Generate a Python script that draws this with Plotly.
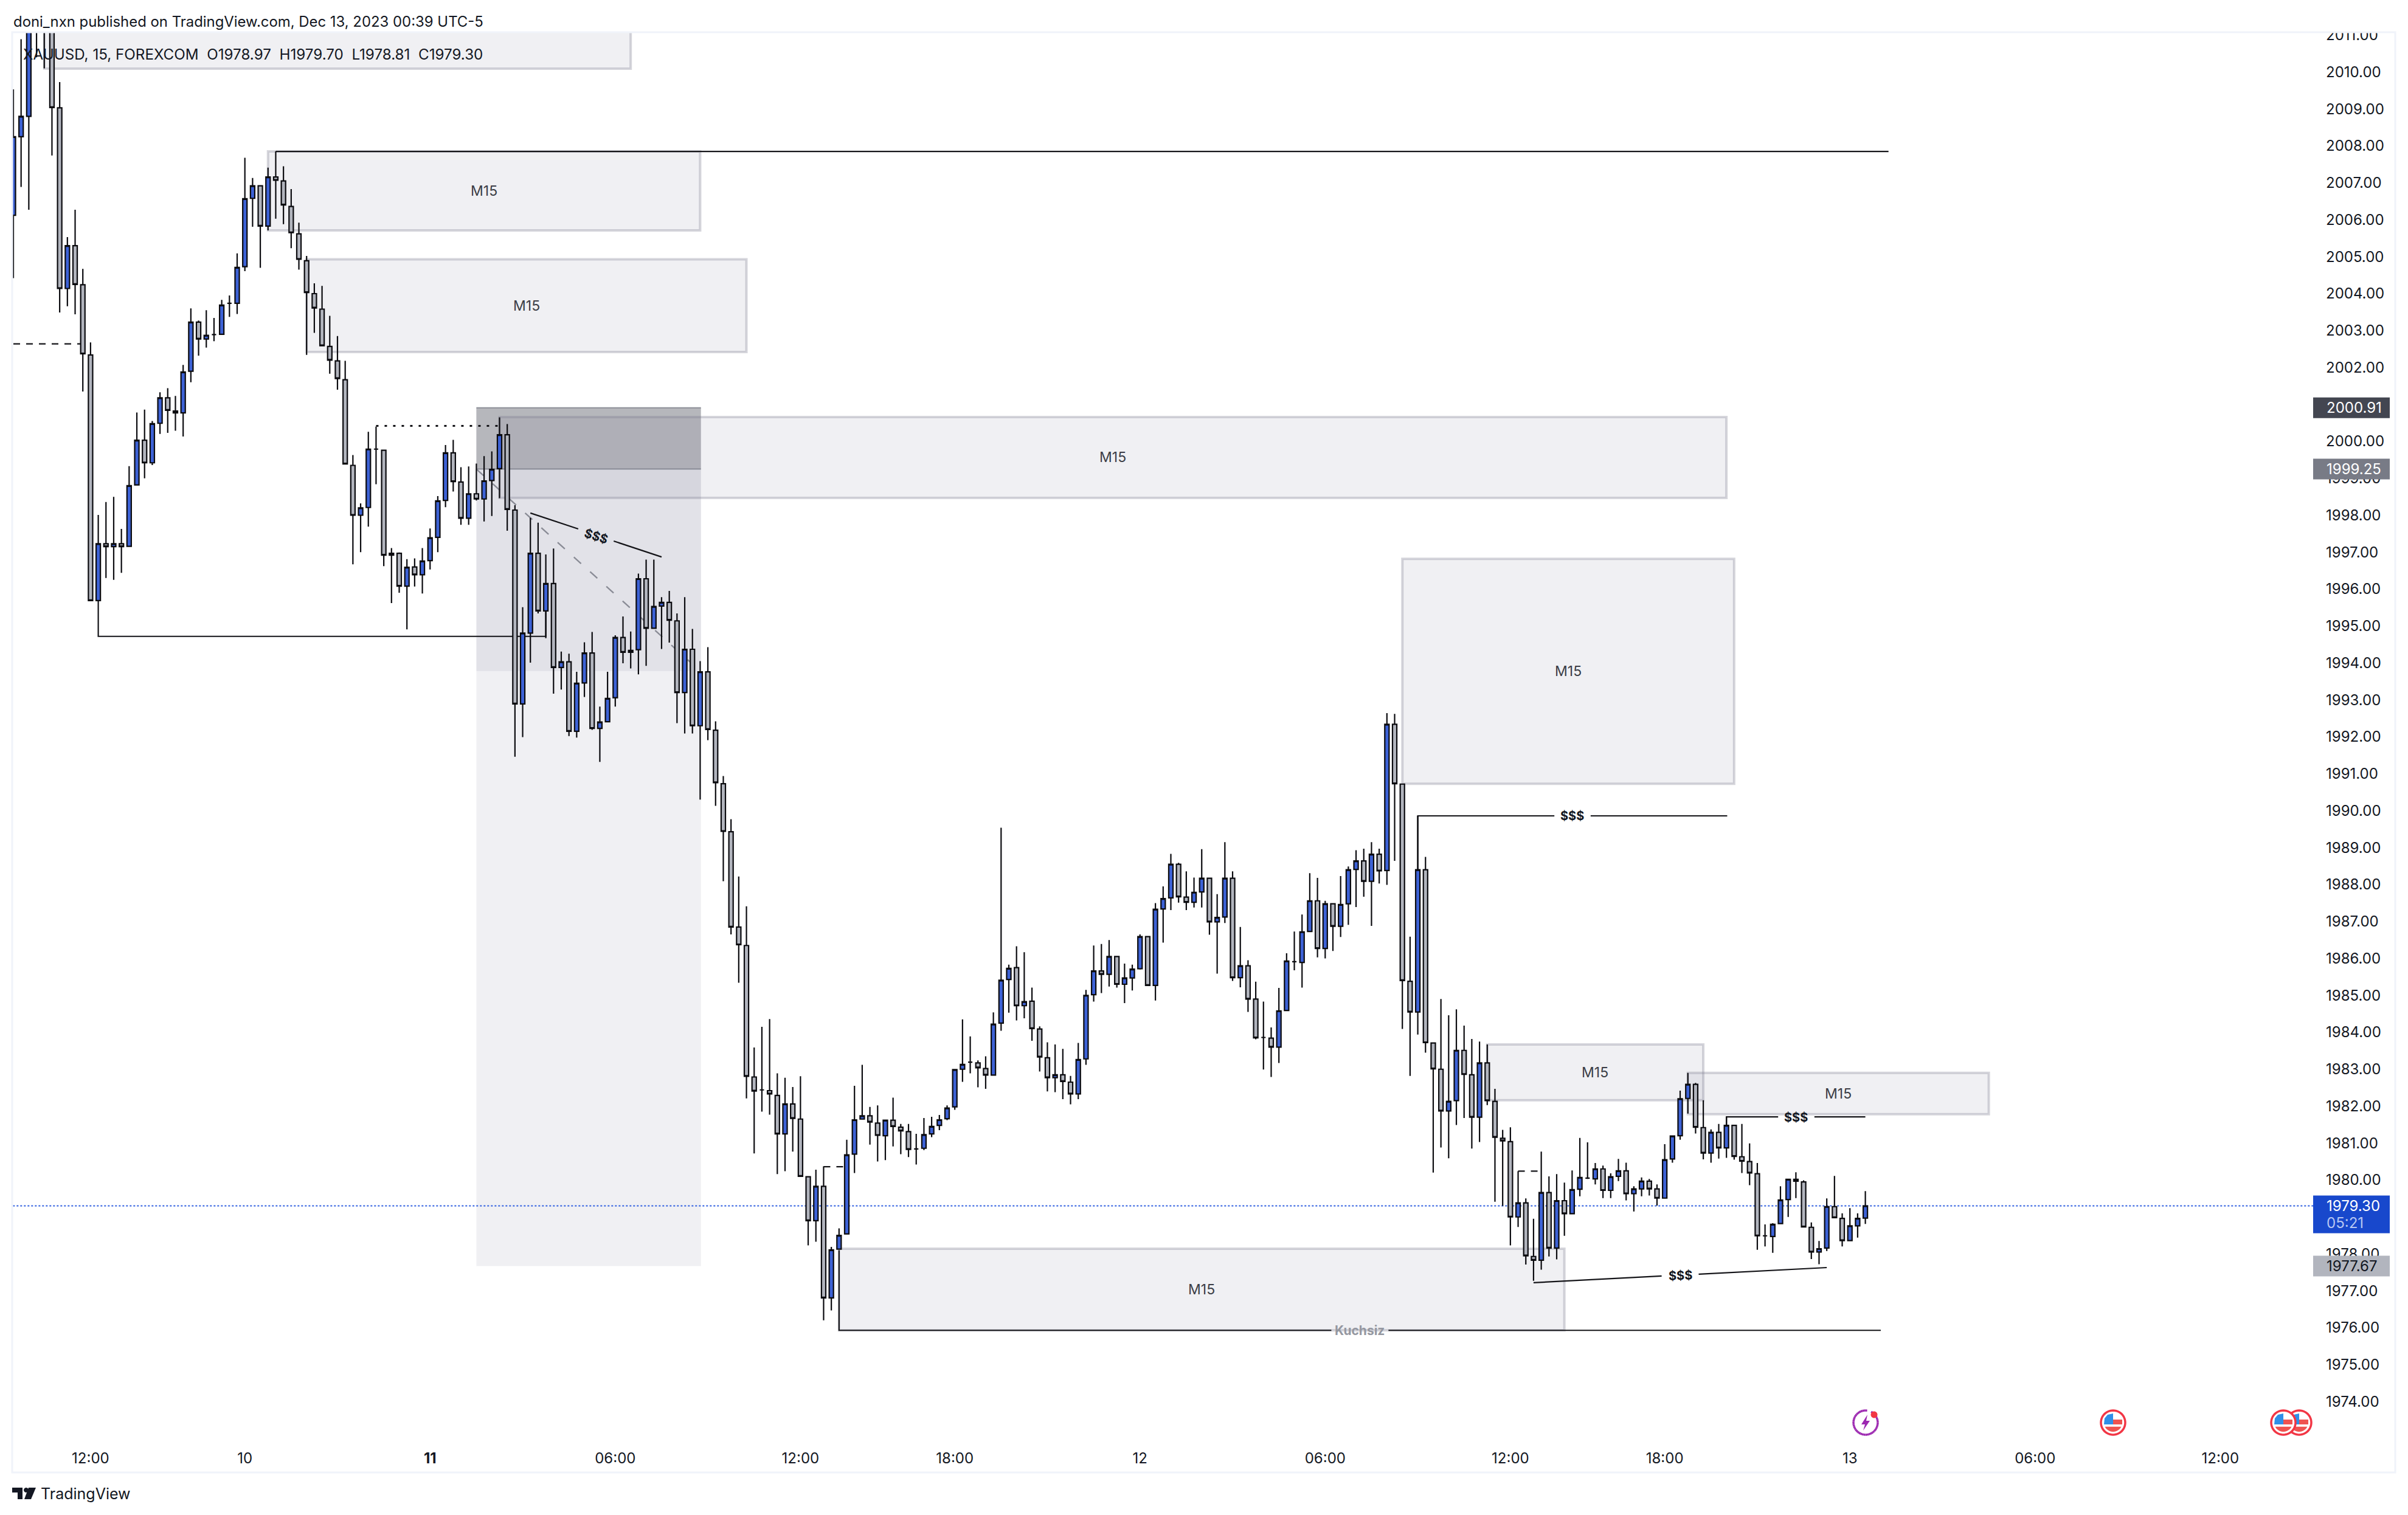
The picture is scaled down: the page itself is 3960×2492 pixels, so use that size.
import math
import plotly.graph_objects as go

W, H = 3960, 2492
L, R, T, B = 20, 3804, 53, 2360
FONT = "Inter"
INK = "#131722"
LINE = "#141418"

opens = [
2006.12,2008.25,2008.80,2012.3,2012.9,2012.6,2009.03,2004.14,2005.30,2004.24,
2002.34,1995.69,1997.23,1997.15,1997.23,1997.16,1998.82,2000.03,1999.42,2000.49,
2001.18,2000.82,2000.77,2001.90,2003.23,2002.77,2002.89,2002.90,2003.74,2003.74,
2004.73,2006.58,2006.92,2005.83,2007.16,2007.05,2006.36,2005.62,2004.89,2004.00,
2003.58,2002.57,2002.18,2001.67,1999.35,1998.00,1998.21,1999.79,1999.76,1996.97,
1996.97,1996.08,1996.60,1996.39,1996.77,1997.40,1998.40,1999.69,1998.90,1997.92,
1998.58,1998.44,1998.94,1999.26,2000.18,1998.14,1992.89,1994.81,1996.97,1995.41,
1996.15,1993.88,1994.03,1992.15,1993.46,1994.27,1992.23,1992.41,1993.06,1994.69,
1994.29,1994.36,1996.28,1994.94,1995.54,1995.64,1995.14,1993.20,1994.37,1992.30,
1993.76,1992.18,1990.73,1989.43,1986.85,1986.35,1982.79,1982.44,1982.42,1982.29,
1981.25,1982.06,1981.65,1980.09,1978.90,1979.83,1976.81,1978.13,1978.54,1980.70,
1981.65,1981.74,1981.54,1981.20,1981.62,1981.43,1981.31,1980.84,1980.86,1981.25,
1981.48,1981.66,1981.98,1983.00,1983.19,1983.17,1983.02,1982.84,1984.25,1985.43,
1985.75,1984.72,1984.84,1984.09,1983.31,1982.77,1982.85,1982.65,1982.33,1983.28,
1985.02,1985.66,1985.57,1986.05,1985.30,1985.47,1985.72,1986.59,1985.27,1987.34,
1987.64,1988.55,1987.66,1987.52,1987.80,1988.17,1986.99,1987.12,1988.17,1985.48,
1985.80,1984.90,1983.86,1983.84,1983.60,1984.59,1985.91,1985.89,1986.73,1987.56,
1986.27,1987.48,1986.87,1987.48,1988.41,1988.64,1988.09,1988.82,1988.38,1992.34,
1990.72,1985.38,1984.55,1988.40,1983.71,1983.00,1981.87,1982.15,1983.51,1982.85,
1981.70,1983.17,1982.13,1981.13,1981.04,1979.00,1979.38,1977.93,1977.83,1979.66,
1978.16,1979.44,1979.09,1979.75,1980.05,1980.03,1980.30,1979.72,1980.10,1980.25,
1979.63,1979.76,1979.97,1979.76,1979.51,1980.57,1981.20,1982.21,1982.59,1981.42,
1980.73,1981.29,1980.87,1981.48,1980.63,1980.50,1980.17,1978.49,1978.47,1978.82,
1979.47,1980.02,1979.95,1978.72,1978.05,1978.16,1979.28,1978.96,1978.36,1978.76,
1978.97]
highs = [
2009.53,2010.89,2012.8,2013.2,2013.3,2012.9,2009.73,2005.53,2006.27,2004.67,
2002.68,1998.01,1998.36,1998.50,1997.63,1999.33,2000.78,2000.86,2000.55,2001.33,
2001.44,2001.23,2002.07,2003.60,2003.27,2003.55,2003.34,2003.83,2003.95,2005.09,
2007.68,2007.13,2006.94,2007.41,2007.85,2007.45,2006.83,2005.92,2005.02,2004.28,
2004.21,2003.40,2002.85,2002.18,1999.63,1998.32,2000.26,2000.40,1999.76,1997.11,
1996.99,1996.81,1996.83,1997.11,1997.64,1998.52,1999.90,2000.04,1999.30,1999.32,
1999.40,1999.60,1999.73,2000.65,2000.47,1998.27,1995.51,1997.93,1997.80,1996.94,
1997.10,1994.31,1994.25,1993.76,1994.56,1994.84,1992.82,1993.76,1994.75,1995.26,
1994.85,1996.42,1996.80,1996.80,1995.78,1995.95,1995.34,1995.78,1994.92,1994.05,
1994.43,1992.42,1990.94,1989.77,1988.22,1987.41,1983.59,1984.15,1984.36,1982.89,
1982.77,1982.52,1982.81,1980.10,1980.28,1980.37,1978.19,1978.69,1981.09,1982.55,
1983.12,1981.98,1982.02,1981.62,1982.23,1981.52,1981.52,1981.25,1981.68,1981.71,
1981.76,1982.02,1982.99,1984.35,1983.89,1983.24,1983.35,1984.54,1989.54,1985.83,
1986.33,1986.17,1985.21,1984.16,1983.73,1983.67,1983.55,1982.82,1983.71,1985.15,
1986.35,1986.39,1986.50,1986.07,1985.86,1985.83,1986.65,1986.61,1987.50,1987.95,
1988.83,1988.59,1988.36,1988.19,1988.96,1988.17,1987.74,1989.15,1988.36,1986.85,
1985.95,1985.37,1984.83,1984.13,1985.20,1986.14,1986.73,1987.19,1988.31,1988.18,
1987.56,1987.48,1988.23,1988.49,1988.93,1988.97,1989.15,1988.97,1992.64,1992.62,
1990.72,1986.59,1989.86,1988.75,1983.71,1984.90,1984.46,1984.62,1984.18,1983.82,
1983.75,1983.67,1982.47,1981.36,1981.43,1980.24,1979.50,1978.95,1980.77,1980.10,
1980.16,1979.93,1980.26,1981.14,1981.02,1980.46,1980.39,1980.18,1980.57,1980.47,
1979.83,1980.07,1980.03,1979.88,1980.97,1981.19,1982.42,1982.90,1982.63,1982.16,
1981.37,1981.52,1981.71,1981.48,1981.52,1980.99,1980.46,1978.80,1978.83,1979.83,
1980.02,1980.21,1979.99,1978.85,1978.35,1979.50,1980.11,1979.10,1979.24,1979.10,
1979.70]
lows = [
2004.42,2006.89,2006.27,2010.4,2010.1,2007.74,2003.49,2003.66,2003.44,2001.35,
1995.69,1995.69,1996.30,1996.25,1996.44,1997.16,1998.82,1999.00,1999.36,2000.20,
2000.23,2000.29,2000.13,2001.60,2002.32,2002.54,2002.71,2002.90,2003.37,2003.45,
2004.61,2005.81,2004.70,2005.71,2006.03,2005.88,2005.23,2004.65,2002.34,2002.94,
2002.59,2001.83,2001.40,1999.39,1996.67,1997.00,1997.69,1998.84,1996.62,1995.62,
1995.90,1994.91,1996.07,1995.88,1996.53,1997.00,1998.22,1998.64,1997.74,1997.74,
1998.40,1997.83,1997.98,1998.46,1997.58,1991.46,1991.99,1994.01,1995.34,1994.67,
1993.17,1993.28,1992.02,1991.98,1993.08,1992.19,1991.32,1992.40,1992.82,1993.99,
1993.85,1993.69,1993.92,1994.94,1994.38,1994.55,1992.37,1992.09,1992.09,1990.30,
1991.91,1990.13,1988.09,1986.65,1985.34,1982.21,1980.72,1981.85,1981.77,1980.16,
1980.24,1980.77,1980.10,1978.23,1978.33,1976.20,1976.47,1978.13,1978.54,1980.19,
1981.65,1980.96,1980.50,1980.54,1980.91,1980.70,1980.62,1980.42,1980.81,1981.16,
1981.35,1981.62,1981.90,1982.66,1982.89,1982.51,1982.47,1982.84,1984.04,1984.53,
1984.32,1984.38,1983.77,1982.94,1982.40,1982.38,1982.19,1982.05,1982.19,1983.12,
1984.83,1985.06,1985.24,1985.21,1984.79,1985.13,1985.70,1985.27,1984.86,1986.43,
1987.31,1987.51,1987.31,1987.38,1987.38,1986.64,1985.59,1986.96,1985.39,1985.22,
1984.55,1983.81,1982.99,1982.79,1983.17,1984.59,1985.68,1985.21,1986.71,1986.03,
1986.00,1986.20,1986.58,1986.91,1987.39,1987.67,1986.88,1988.03,1987.99,1988.64,
1984.09,1982.82,1983.94,1983.45,1980.20,1980.88,1980.59,1981.49,1981.68,1980.85,
1981.03,1982.03,1979.41,1979.30,1978.23,1978.73,1977.71,1977.27,1977.57,1977.93,
1977.85,1978.49,1979.09,1979.56,1980.03,1979.88,1979.51,1979.51,1979.97,1979.45,
1979.15,1979.56,1979.58,1979.31,1979.51,1980.47,1981.09,1981.80,1981.26,1980.56,
1980.47,1980.58,1980.60,1980.55,1980.19,1979.86,1978.11,1978.20,1978.03,1978.82,
1979.00,1979.51,1978.73,1977.86,1977.72,1978.08,1978.98,1978.20,1978.36,1978.44,
1978.81]
closes = [
2008.25,2008.80,2012.3,2012.9,2012.6,2009.04,2004.14,2005.30,2004.25,2002.37,
1995.69,1997.23,1997.15,1997.23,1997.15,1998.80,2000.03,1999.42,2000.48,2001.18,
2000.84,2000.77,2001.88,2003.23,2002.77,2002.87,2002.89,2003.69,2003.74,2004.71,
2006.57,2006.92,2005.83,2007.16,2007.07,2006.40,2005.65,2004.93,2004.03,2003.61,
2002.59,2002.20,2001.70,1999.39,1998.00,1998.20,1999.79,1999.79,1996.92,1996.92,
1996.08,1996.59,1996.39,1996.76,1997.39,1998.39,1999.69,1998.91,1997.92,1998.58,
1998.44,1998.93,1999.24,2000.18,1998.16,1992.89,1994.81,1996.97,1995.41,1996.15,
1993.88,1994.03,1992.15,1993.45,1994.27,1992.23,1992.40,1993.04,1994.69,1994.29,
1994.34,1996.28,1994.94,1995.53,1995.64,1995.16,1993.20,1994.37,1992.30,1993.76,
1992.20,1990.76,1989.44,1986.85,1986.37,1982.81,1982.41,1982.44,1982.33,1981.25,
1982.06,1981.67,1980.10,1978.90,1979.83,1976.81,1978.11,1978.50,1980.68,1981.63,
1981.74,1981.57,1981.21,1981.62,1981.45,1981.33,1980.83,1980.84,1981.23,1981.45,
1981.63,1981.95,1982.99,1983.13,1983.19,1983.04,1982.84,1984.22,1985.41,1985.73,
1984.72,1984.83,1984.10,1983.33,1982.77,1982.85,1982.67,1982.33,1983.26,1985.00,
1985.66,1985.57,1986.05,1985.30,1985.47,1985.71,1986.59,1985.27,1987.33,1987.62,
1988.55,1987.67,1987.52,1987.79,1988.17,1986.99,1987.11,1988.17,1985.48,1985.80,
1984.90,1983.85,1983.86,1983.60,1984.58,1985.93,1985.91,1986.72,1987.56,1986.27,
1987.48,1986.87,1987.46,1988.40,1988.64,1988.09,1988.82,1988.37,1992.34,1990.73,
1985.40,1984.55,1988.40,1983.72,1983.01,1981.87,1982.13,1983.51,1982.86,1981.70,
1983.17,1982.15,1981.16,1981.06,1979.00,1979.38,1977.95,1977.83,1979.66,1978.16,
1979.44,1979.09,1979.74,1980.07,1980.05,1980.30,1979.72,1980.09,1980.25,1979.63,
1979.76,1979.97,1979.76,1979.51,1980.55,1981.19,1982.20,1982.59,1981.43,1980.73,
1981.29,1980.87,1981.48,1980.64,1980.51,1980.19,1978.49,1978.49,1978.80,1979.46,
1980.02,1979.97,1978.73,1978.05,1978.14,1979.28,1978.98,1978.36,1978.76,1978.96,
1979.30]

# Supply / demand zones: bar index left/right, price top/bottom
zone_left = [4, 33, 38, 63, 180, 107, 191, 217]
zone_right = [80, 89, 95, 222, 223, 201, 219, 256]
zone_top = [2012.5, 2007.85, 2004.93, 2000.66, 1996.82, 1978.14, 1983.67, 1982.90]
zone_bottom = [2010.09, 2005.71, 2002.42, 1998.47, 1990.73, 1975.93, 1982.16, 1981.78]
zone_label = ["", "M15", "M15", "M15", "M15", "M15", "M15", "M15"]

fib_left, fib_right = 60, 89.1
fib_levels = [2000.91, 1999.25, 1993.78, 1977.67]

# Hand-drawn lines: (bar index list, price list)
solid_lines = [
    ([34, 243], [2007.85, 2007.85]),
    ([11, 11, 69, 69], [1995.69, 1994.72, 1994.72, 1995.41]),
    ([67, 73.2], [1998.06, 1997.63]),
    ([77.8, 84], [1997.30, 1996.87]),
    ([182, 182, 199.7], [1988.4, 1989.86, 1989.86]),
    ([204.4, 222.1], [1989.86, 1989.86]),
    ([222, 222, 228.7], [1981.48, 1981.71, 1981.71]),
    ([233.4, 240], [1981.71, 1981.71]),
    ([197, 213.6], [1977.22, 1977.40]),
    ([218.4, 235], [1977.45, 1977.63]),
    ([107, 107, 170.8], [1978.1, 1975.93, 1975.93]),
    ([178.2, 242], [1975.93, 1975.93]),
]
dashed_lines = [
    ([0, 9], [2002.64, 2002.64]),
    ([105, 108], [1980.36, 1980.36]),
    ([195, 198], [1980.24, 1980.24]),
]
dotted_lines = [([47, 63], [2000.42, 2000.42])]
fib_diag = ([60, 89], [1999.25, 1993.78])

cash_idx = [75.5, 202, 231, 216]
cash_price = [1997.44, 1989.86, 1981.69, 1977.42]
cash_rot = [18, 0, 0, -2]

last_price = 1979.30
tick_pos = [10, 30, 54, 78, 102, 122, 146, 170, 194, 214, 238, 262, 286]
tick_txt = ["12:00", "10", "<b>11</b>", "06:00", "12:00", "18:00", "12", "06:00", "12:00", "18:00", "13", "06:00", "12:00"]
price_ticks = list(range(1974, 2012))

BAR0, BARW = 22.0, 12.69
y_px = lambda p: 1941 - (p - 1980) * 60.75
fx = lambda x: (x - L) / (R - L)
fy = lambda y: (B - y) / (B - T)

fig = go.Figure(go.Candlestick(
    x=list(range(len(opens))), open=opens, high=highs, low=lows, close=closes,
    increasing=dict(fillcolor="#3d62d6", line=dict(color="#0b0b0f", width=2.2)),
    decreasing=dict(fillcolor="#b2b5be", line=dict(color="#0b0b0f", width=2.2)),
    whiskerwidth=0, showlegend=False, hoverinfo="skip",
))

shapes, anns = [], []
ZF = "rgba(120,120,150,0.11)"
ZB = "rgba(120,120,140,0.30)"


def line(xs, ys, color=LINE, width=2.2, dash="solid"):
    path = "M" + " L".join(f"{a},{b}" for a, b in zip(xs, ys))
    shapes.append(dict(type="path", path=path, xref="x", yref="y", layer="below",
                       line=dict(color=color, width=width, dash=dash)))


# fib block
for top, bot, col in [(fib_levels[0], fib_levels[3], "rgba(120,120,150,.11)"),
                      (fib_levels[0], fib_levels[2], "rgba(120,120,150,.11)"),
                      (fib_levels[0], fib_levels[1], "rgba(110,112,115,.38)")]:
    shapes.append(dict(type="rect", xref="x", yref="y", x0=fib_left, x1=fib_right, y0=bot, y1=top,
                       layer="below", fillcolor=col, line=dict(width=0)))
line([fib_left, fib_right], [fib_levels[0]] * 2, "rgba(120,123,134,.75)", 2)
line([fib_left, fib_right], [fib_levels[1]] * 2, "rgba(120,123,134,.75)", 2)
line(*fib_diag, "#8a8c96", 2.4, "16px,20px")

for a, b, t, u, lab in zip(zone_left, zone_right, zone_top, zone_bottom, zone_label):
    shapes.append(dict(type="rect", xref="x", yref="y", x0=a, x1=b, y0=u, y1=t, layer="below",
                       fillcolor=ZF, line=dict(color=ZB, width=4)))
    if lab:
        anns.append(dict(x=(a + b) / 2, y=(t + u) / 2, xref="x", yref="y", text=lab, showarrow=False,
                         font=dict(family=FONT, size=23, color="#3b3d45")))

line([-1, 300], [last_price] * 2, "#2f5fe0", 2.2, "dot")
for xs, ys in solid_lines:
    line(xs, ys)
for xs, ys in dashed_lines:
    line(xs, ys, width=2.2, dash="11px,10px")
for xs, ys in dotted_lines:
    line(xs, ys, width=3.2, dash="4px,10px")

for i, p, r in zip(cash_idx, cash_price, cash_rot):
    anns.append(dict(x=i, y=p, xref="x", yref="y", text="<b>$$$</b>", textangle=r, showarrow=False,
                     font=dict(family=FONT, size=20, color="#131722")))
anns.append(dict(x=174.5, y=1975.93, xref="x", yref="y", text="<b>Kuchsiz</b>", showarrow=False,
                 font=dict(family=FONT, size=21, color="#9598a1")))


def txt(x, y, s, size=24, color=INK, anchor="left"):
    anns.append(dict(x=fx(x), y=fy(y), xref="paper", yref="paper", text=s, showarrow=False, xanchor=anchor,
                     yanchor="middle", xshift=0, font=dict(family=FONT, size=size, color=color)))


def box(x0, y0, x1, y1, fill, lw=0, lc=None):
    shapes.append(dict(type="rect", xref="paper", yref="paper", x0=fx(x0), x1=fx(x1), y0=fy(y1), y1=fy(y0),
                       fillcolor=fill, layer="above", line=dict(width=lw, color=lc or fill)))


def poly(pts, fill, lw=0, lc=None):
    path = "M" + " L".join(f"{fx(a)},{fy(b)}" for a, b in pts) + " Z"
    shapes.append(dict(type="path", path=path, xref="paper", yref="paper", layer="above",
                       fillcolor=fill, line=dict(width=lw, color=lc or fill)))


# mask above the pane, pane frame
box(3806, 22, 3936, 54, "#ffffff")
shapes.append(dict(type="rect", xref="paper", yref="paper", x0=fx(20), x1=fx(3939), y0=fy(2422), y1=fy(53),
                   layer="above", line=dict(color="#f0f3fa", width=3)))

# price labels on the axis
LBL_L, LBL_R, LBL_T = 3804, 3930, 3824
for p, fill, col in [(2000.91, "#434651", "#ffffff"), (1999.25, "#787b86", "#ffffff"), (1977.67, "#b2b5be", INK)]:
    yc = y_px(p)
    box(LBL_L, yc - 17, LBL_R, yc + 17, fill)
    txt(LBL_T, yc, f"{p:.2f}", 24, col)
yc = y_px(last_price)
box(LBL_L, yc - 17, LBL_R, yc + 45, "#1848cc")
txt(LBL_T, yc, f"{last_price:.2f}", 24, "#ffffff")
txt(LBL_T, yc + 28, "05:21", 24, "#b6c6f2")

# header, legend, footer
txt(20, 36, "doni_nxn published on TradingView.com, Dec 13, 2023 00:39 UTC-5", 23.9)
txt(36, 90, "XAUUSD, 15, FOREXCOM  O1978.97  H1979.70  L1978.81  C1979.30", 24.2)
txt(65, 2457, "TradingView", 25)
poly([(20, 2447), (37, 2447), (37, 2466), (29, 2466), (29, 2455), (20, 2455)], INK)
poly([(47 + 4 * math.cos(a / 6 * math.pi) - 4, 2451 + 4 * math.sin(a / 6 * math.pi)) for a in range(12)], INK)
poly([(47, 2447), (59, 2447), (51, 2466), (40, 2466)], INK)


def ring(cx, cy, r, n=48):
    return [(cx + r * math.cos(2 * math.pi * k / n), cy + r * math.sin(2 * math.pi * k / n)) for k in range(n)]


def flag(cx, cy):
    poly(ring(cx, cy, 20), "#ffffff", 3.5, "#f23645")
    r = 15
    lower = [(cx + r * math.cos(k / 24 * math.pi * 0.7 + 0.15 * math.pi), cy + r * math.sin(k / 24 * math.pi * 0.7 + 0.15 * math.pi)) for k in range(25)]
    poly(lower, "#ef5350")
    poly([(cx, cy - 5), (cx + 15, cy - 5), (cx + 15, cy + 3), (cx, cy + 3)], "#ef5350")
    poly([(cx - 15, cy + 3), (cx - 14, cy - 7), (cx - 9, cy - 13), (cx, cy - 15), (cx, cy + 3)], "#2f8fe8")


for cx in (3781, 3475, 3755):
    flag(cx, 2340)

# purple lightning marker
cx, cy = 3068, 2340
for k in range(44):
    a0 = -1.1 + k * 0.135
    a1 = a0 + 0.135
    shapes.append(dict(type="line", xref="paper", yref="paper", layer="above",
                       x0=fx(cx + 20 * math.cos(a0)), y0=fy(cy + 20 * math.sin(a0)),
                       x1=fx(cx + 20 * math.cos(a1)), y1=fy(cy + 20 * math.sin(a1)),
                       line=dict(color="#9c27b0", width=3.5)))
poly([(cx + 3, cy - 13), (cx - 7, cy + 3), (cx - 1, cy + 3), (cx - 4, cy + 13), (cx + 7, cy - 3), (cx + 1, cy - 3)], "#9c27b0")
poly(ring(cx + 14, cy - 13, 5.5), "#f23645")

fig.update_layout(
    width=W, height=H, autosize=False,
    margin=dict(l=L, r=W - R, t=T, b=H - B, pad=0),
    plot_bgcolor="#ffffff", paper_bgcolor="#ffffff", showlegend=False, boxgap=0.2,
    shapes=shapes, annotations=anns,
    font=dict(family=FONT, size=24, color=INK),
    xaxis=dict(range=[(L - BAR0) / BARW, (R - BAR0) / BARW], rangeslider=dict(visible=False), showgrid=False,
               zeroline=False, showline=False, ticks="", tickmode="array", tickvals=tick_pos, ticktext=tick_txt,
               tickfont=dict(family=FONT, size=24, color=INK), ticklabelstandoff=22),
    yaxis=dict(range=[1980 - (B - 1941) / 60.75, 1980 + (1941 - T) / 60.75], side="right", showgrid=False,
               zeroline=False, showline=False, ticks="", tickmode="array", tickvals=price_ticks,
               ticktext=[f"{p}.00" for p in price_ticks], tickfont=dict(family=FONT, size=24, color=INK),
               ticklabelstandoff=20),
)
fig.write_html("out.html", post_script="document.body.style.margin='0';", config=dict(displayModeBar=False))
